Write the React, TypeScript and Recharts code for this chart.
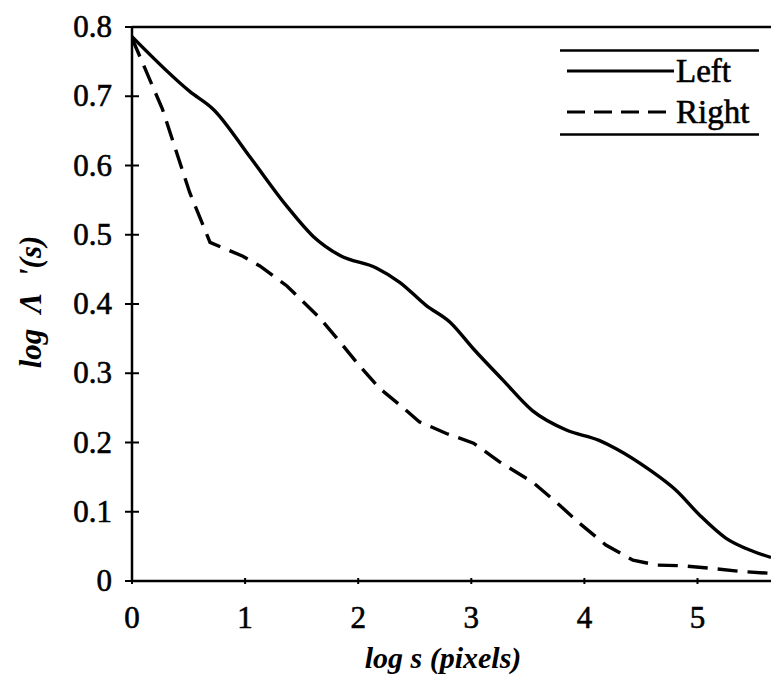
import { Legend, Line, LineChart, ReferenceLine, XAxis, YAxis } from "recharts";

const leftX = [0, 0.51, 0.72, 1.04, 1.37, 1.6, 1.84, 2.16, 2.37, 2.6, 2.81, 3.02, 3.28, 3.54, 3.84, 4.13, 4.28, 4.58, 4.81, 5.02, 5.25, 5.49, 5.65];
const leftY = [0.786, 0.707, 0.681, 0.613, 0.541, 0.498, 0.47, 0.452, 0.431, 0.398, 0.374, 0.335, 0.29, 0.246, 0.218, 0.203, 0.191, 0.16, 0.131, 0.095, 0.062, 0.043, 0.034];
const rightX = [0, 0.27, 0.51, 0.69, 0.98, 1.13, 1.37, 1.66, 1.84, 2.01, 2.19, 2.37, 2.54, 2.78, 3.02, 3.25, 3.54, 3.75, 3.96, 4.19, 4.43, 4.64, 4.87, 5.14, 5.37, 5.65];
const rightY = [0.784, 0.681, 0.561, 0.489, 0.469, 0.455, 0.426, 0.38, 0.345, 0.311, 0.278, 0.254, 0.23, 0.213, 0.199, 0.172, 0.143, 0.114, 0.083, 0.052, 0.03, 0.023, 0.022, 0.018, 0.014, 0.011];
const xTicks = [0, 1, 2, 3, 4, 5];
const yTicks = [0, 0.1, 0.2, 0.3, 0.4, 0.5, 0.6, 0.7, 0.8];
const seriesNames = ["Left", "Right"];

const FONT = "'Liberation Serif', 'Times New Roman', serif";
const PLOT_LEFT = 132;
const PLOT_BOTTOM = 581;

const leftRows = leftX.map((x, i) => ({ x, y: leftY[i] }));
const rightRows = rightX.map((x, i) => ({ x, y: rightY[i] }));

// scanned print look: a hairline stroke thickens the glyphs a bit
const ink = { fill: "#000", stroke: "#000", strokeWidth: 0.6 };

function YTick({ y, payload }: any) {
  return <g>
    <line x1={PLOT_LEFT - 7} x2={PLOT_LEFT + 7} y1={y} y2={y} stroke="#000" strokeWidth={2} />
    <text x={112} y={y} dy={10} textAnchor="end" fontFamily={FONT} fontSize={31} {...ink}>{payload.value === 0 ? "0" : payload.value.toFixed(1)}</text>
  </g>;
}

function XTick({ x, payload }: any) {
  return <g>
    <line x1={x} x2={x} y1={PLOT_BOTTOM - 3} y2={PLOT_BOTTOM + 3} stroke="#000" strokeWidth={2} />
    <text x={x} y={628} textAnchor="middle" fontFamily={FONT} fontSize={31} {...ink}>{payload.value}</text>
  </g>;
}

function YLabel() {
  return <text x={0} y={0} transform="translate(30, 302) rotate(-90)" textAnchor="middle" dominantBaseline="central" fontFamily={FONT} fontSize={31} fontStyle="italic" fontWeight="bold" fill="#000">{"log\u00a0\u00a0Λ\u00a0\u00a0'(s)"}</text>;
}

function XLabel() {
  return <text x={443} y={668} textAnchor="middle" fontFamily={FONT} fontSize={30} fontStyle="italic" fontWeight="bold" fill="#000">log s (pixels)</text>;
}

function LegendBox() {
  return <svg width={200} height={88} style={{ display: "block" }}>
    <line x1={0} x2={199} y1={1.5} y2={1.5} stroke="#000" strokeWidth={2.5} />
    <line x1={0} x2={199} y1={85.5} y2={85.5} stroke="#000" strokeWidth={2.5} />
    <line x1={7} x2={114} y1={22} y2={22} stroke="#000" strokeWidth={3} />
    <text x={116} y={33} fontFamily={FONT} fontSize={33} {...ink}>{seriesNames[0]}</text>
    <line x1={7} x2={114} y1={63} y2={63} stroke="#000" strokeWidth={3} strokeDasharray="18 9" />
    <text x={116} y={74} fontFamily={FONT} fontSize={33} {...ink}>{seriesNames[1]}</text>
  </svg>;
}

export default function App() {
  return <div style={{ position: "absolute", left: 0, top: 0, width: 771, height: 689, background: "#fff" }}>
    <LineChart width={771} height={689} data={leftRows} margin={{ top: 27, right: 0, bottom: 0, left: 0 }}>
      <XAxis dataKey="x" type="number" domain={[0, 5.65]} ticks={xTicks} allowDataOverflow height={108} tick={<XTick />} tickLine={false} axisLine={{ stroke: "#000", strokeWidth: 2.5 }} label={<XLabel />} />
      <YAxis type="number" domain={[0, 0.8]} ticks={yTicks} width={PLOT_LEFT} tick={<YTick />} tickLine={false} axisLine={{ stroke: "#000", strokeWidth: 2.5 }} label={<YLabel />} />
      <ReferenceLine y={0.8} stroke="#000" strokeWidth={2.5} />
      <Legend content={<LegendBox />} layout="horizontal" verticalAlign="middle" wrapperStyle={{ left: 560, top: 49, width: 200 }} />
      <Line data={leftRows} dataKey="y" name={seriesNames[0]} type="monotone" stroke="#000" strokeWidth={3.4} dot={false} isAnimationActive={false} />
      <Line data={rightRows} dataKey="y" name={seriesNames[1]} type="linear" stroke="#000" strokeWidth={3.4} strokeDasharray="20 10" dot={false} isAnimationActive={false} />
    </LineChart>
  </div>;
}
